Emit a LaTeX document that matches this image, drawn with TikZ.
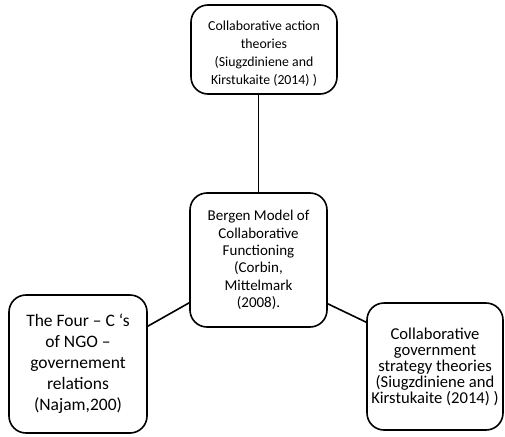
\documentclass[tikz,border=0pt]{standalone}
\usepackage{fontspec}
\setmainfont{Carlito}
\setlength{\tabcolsep}{0pt}
\begin{document}
\begin{tikzpicture}[x=1pt,y=-1pt,
  theory/.style={draw=black,line width=1.6pt,rounded corners=17pt,
    inner sep=0pt,align=center,fill=white},
  link/.style={line width=1.6pt}]
\useasboundingbox (0,0) rectangle (505,436);
\fill[white] (0,0) rectangle (505,436);

\node[theory,minimum width=146pt,minimum height=89pt,
  font=\fontsize{13.8}{18}\selectfont] (t) at (264,49.5)
  {\raisebox{-4.5pt}[\height][\depth]{\begin{tabular}{c}Collaborative action\\theories\\(Siugzdiniene and\\Kirstukaite (2014) )\end{tabular}}};

\node[theory,minimum width=137pt,minimum height=134pt,
  font=\fontsize{15}{17.3}\selectfont] (c) at (258.5,260)
  {Bergen Model of\\Collaborative\\Functioning\\(Corbin,\\Mittelmark\\(2008).};

\node[theory,minimum width=138pt,minimum height=138pt,
  font=\fontsize{17.5}{21}\selectfont] (l) at (78,364)
  {The Four -- C `s\\of NGO --\\governement\\relations\\(Najam,200)};

\node[theory,minimum width=136pt,minimum height=127pt,
  font=\fontsize{16.6}{16}\selectfont] (r) at (435,366.5)
  {Collaborative\\government\\strategy theories\\(Siugzdiniene and\\Kirstukaite (2014) )};

\draw[link] (c.north) -- (c.north |- t.south);
\draw[link] ([yshift=25pt]c.south west) -- ([yshift=-32pt]l.north east);
\draw[link] ([yshift=24pt]c.south east) -- ([yshift=-20pt]r.north west);
\end{tikzpicture}
\end{document}
